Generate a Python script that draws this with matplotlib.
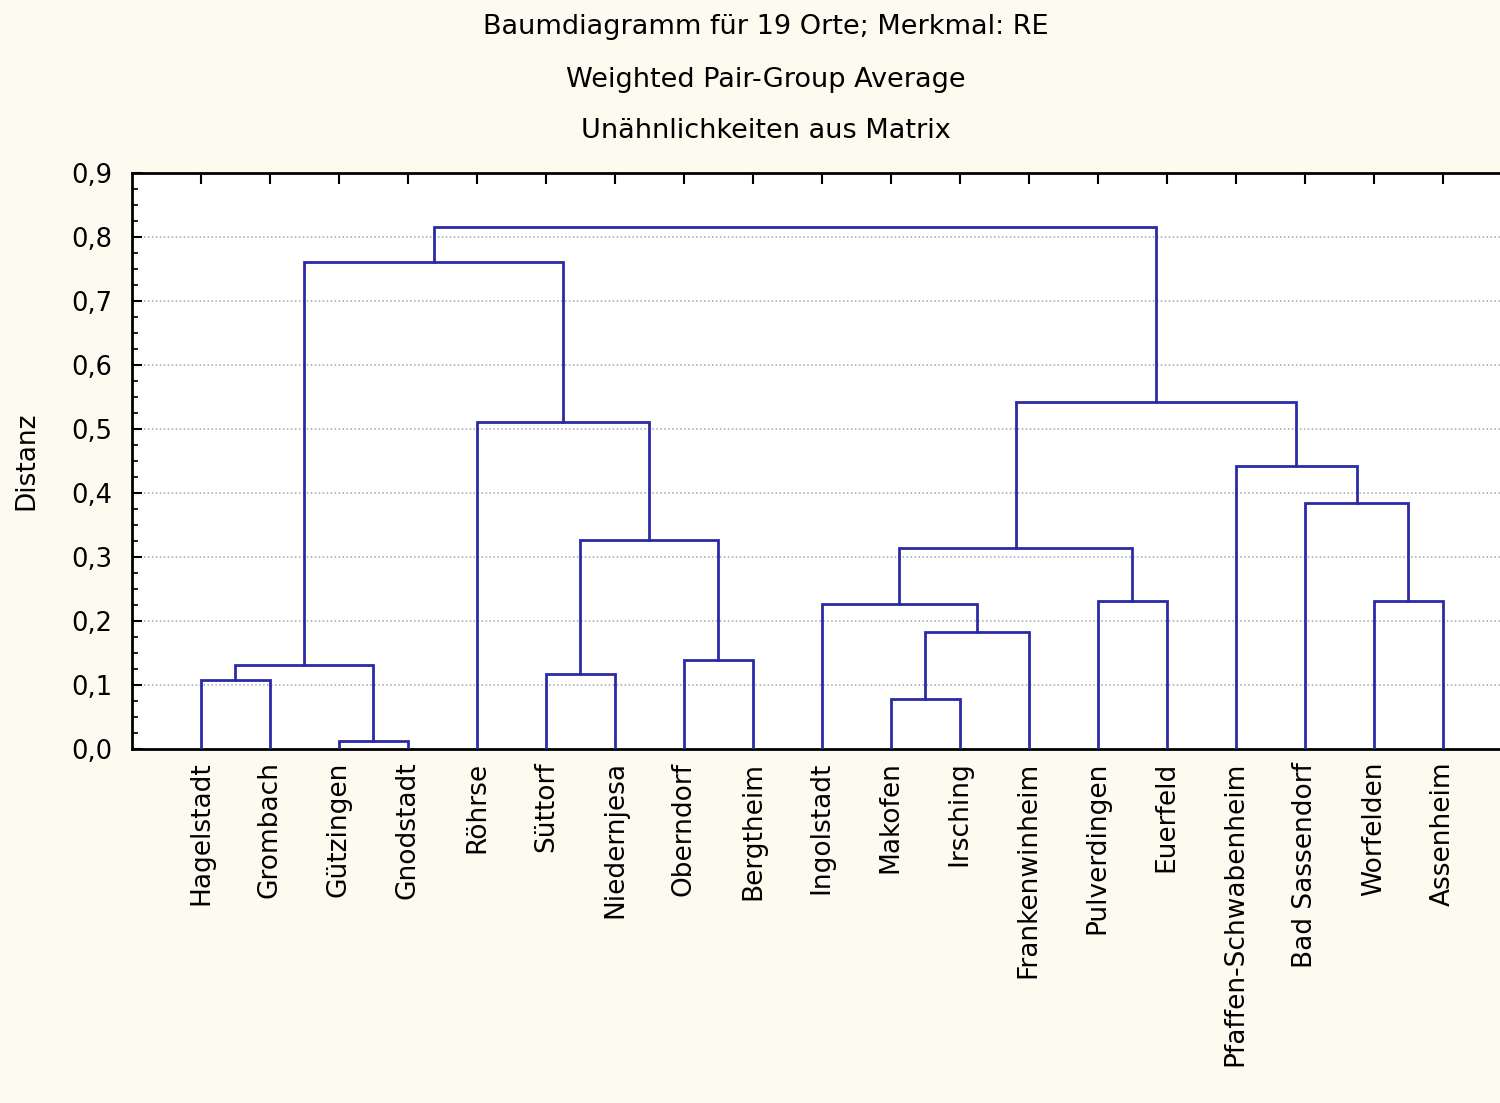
import matplotlib
matplotlib.use("Agg")
import matplotlib.pyplot as plt
from matplotlib.ticker import FuncFormatter, MultipleLocator

# ---- data ----
leaves = ["Hagelstadt", "Grombach", "Gützingen", "Gnodstadt", "Röhrse",
          "Süttorf", "Niedernjesa", "Oberndorf", "Bergtheim", "Ingolstadt",
          "Makofen", "Irsching", "Frankenwinheim", "Pulverdingen", "Euerfeld",
          "Pfaffen-Schwabenheim", "Bad Sassendorf", "Worfelden", "Assenheim"]

# merges: (child a, child b); ids 0..18 are leaves, 19+ are clusters in order
merge_a = [2, 10, 0, 5, 21, 7, 20, 9, 13, 17, 26, 22, 16, 15, 4, 29, 23, 35]
merge_b = [3, 11, 1, 6, 19, 8, 12, 25, 14, 18, 27, 24, 28, 31, 30, 32, 33, 34]
merge_h = [0.0125, 0.078, 0.108, 0.117, 0.131, 0.139, 0.183, 0.227, 0.231,
           0.231, 0.314, 0.327, 0.384, 0.442, 0.511, 0.542, 0.761, 0.816]

titles = ["Baumdiagramm für 19 Orte; Merkmal: RE",
          "Weighted Pair-Group Average",
          "Unähnlichkeiten aus Matrix"]
y_ticks = [0.0, 0.1, 0.2, 0.3, 0.4, 0.5, 0.6, 0.7, 0.8, 0.9]

# ---- style ----
BG = "#fdfbf0"
LINE = "#2a2aa6"
plt.rcParams['font.family'] = ['DejaVu Sans']

fig = plt.figure(figsize=(15, 11.03), dpi=100, facecolor=BG)
ax = fig.add_axes([132/1500, 354/1103, 1 - 132/1500, (749 - 173)/1103])
ax.set_facecolor("white")

# node coordinates
xs = [i + 1 for i in range(len(leaves))]
hs = [0.0] * len(leaves)
for a, b, h in zip(merge_a, merge_b, merge_h):
    xa, ha, xb, hb = xs[a], hs[a], xs[b], hs[b]
    ax.plot([xa, xa, xb, xb], [ha, h, h, hb], color=LINE, lw=2.0,
            solid_joinstyle='miter', zorder=3)
    xs.append((xa + xb) / 2)
    hs.append(h)

ax.set_xlim(0, 19.83)
ax.set_ylim(0, 0.9)

# grid
for yv in y_ticks[1:-1]:
    ax.axhline(yv, color="#a0a4b8", lw=1.1, linestyle=(0, (1, 1.6)), zorder=1)

# y axis
ax.set_yticks(y_ticks)
ax.yaxis.set_major_formatter(FuncFormatter(lambda v, p: f"{v:.1f}".replace(".", ",")))
ax.yaxis.set_minor_locator(MultipleLocator(0.025))
ax.tick_params(axis='y', which='major', direction='in', length=7, width=1.5,
               labelsize=18.5, pad=14, colors='black')
ax.tick_params(axis='y', which='minor', direction='in', length=4, width=1.2)
ax.set_ylabel("Distanz", fontsize=19)
ax.yaxis.set_label_coords(-0.068, 0.5)

# x axis
ax.set_xticks(xs[:len(leaves)])
ax.set_xticklabels(leaves, rotation=90, fontsize=19, va='top', ha='center')
ax.tick_params(axis='x', which='major', direction='in', length=8, width=1.5,
               top=True, bottom=True, labelbottom=True, labeltop=False, pad=9)
for t in ax.xaxis.get_major_ticks():
    t.tick1line.set_visible(False)

for s in ["left", "top", "bottom"]:
    ax.spines[s].set_linewidth(2)
    ax.spines[s].set_color("black")
ax.spines["right"].set_visible(False)

# titles
for txt, ypx in zip(titles, [27, 80, 131]):
    fig.text(766/1500, 1 - ypx/1103, txt, ha='center', va='center', fontsize=19.5)

fig.savefig("out.png", dpi=100, facecolor=BG)
